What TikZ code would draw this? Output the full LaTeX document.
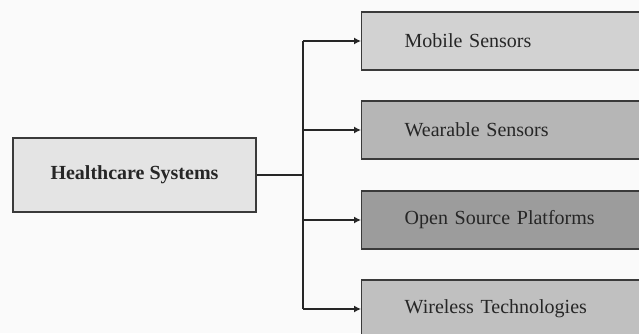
\documentclass[tikz,border=0pt]{standalone}
\usepackage{fontspec}
\setmainfont{Liberation Serif}
\usetikzlibrary{arrows.meta}
\definecolor{edge}{HTML}{3A3A3A}
\definecolor{rootfill}{HTML}{E4E4E4}
\definecolor{mobfill}{HTML}{D2D2D2}
\definecolor{wearfill}{HTML}{B6B6B6}
\definecolor{osfill}{HTML}{9C9C9C}
\definecolor{wirefill}{HTML}{C0C0C0}
\begin{document}
\begin{tikzpicture}[x=1pt,y=-1pt,
  box/.style={draw=edge, line width=1.4pt, rectangle, font=\fontsize{20}{24}\selectfont, text=black!85},
  rootbox/.style={box, fill=rootfill, minimum width=243pt, minimum height=74pt, inner sep=0pt, font=\fontsize{20}{24}\selectfont\bfseries},
  leafbox/.style={box, anchor=west, minimum height=58pt, text width=260pt, inner xsep=43pt, inner ysep=0pt, align=left},
  link/.style={draw=black!85, line width=1.3pt},
  feed/.style={link, -{Latex[length=7pt,width=7pt]}}]
\useasboundingbox (0,0) rectangle (639,333);
\fill[white!98!black] (0,0) rectangle (639,333);
\clip (0,0) rectangle (639,333);

% root and the four branches
\node[rootbox] (root) at (134.5,175) {Healthcare Systems};
\node[leafbox, fill=mobfill]  (mob)  at (361,41)  {Mobile Sensors};
\node[leafbox, fill=wearfill] (wear) at (361,130) {Wearable Sensors};
\node[leafbox, fill=osfill]   (os)   at (361,220) {Open Source Platforms};
\node[leafbox, fill=wirefill] (wire) at (361,309) {Wireless Technologies};

% trunk joining the branches
\coordinate (j) at (303,175);
\coordinate (jtop) at (303,41);
\coordinate (jbot) at (303,309);
\draw[link] (root.east) -- (j);
\draw[link] (jtop) -- (jbot);
\draw[feed] (jtop) -- (mob.west);
\draw[feed] (j |- wear.west) -- (wear.west);
\draw[feed] (j |- os.west) -- (os.west);
\draw[feed] (jbot) -- (wire.west);
\end{tikzpicture}
\end{document}
